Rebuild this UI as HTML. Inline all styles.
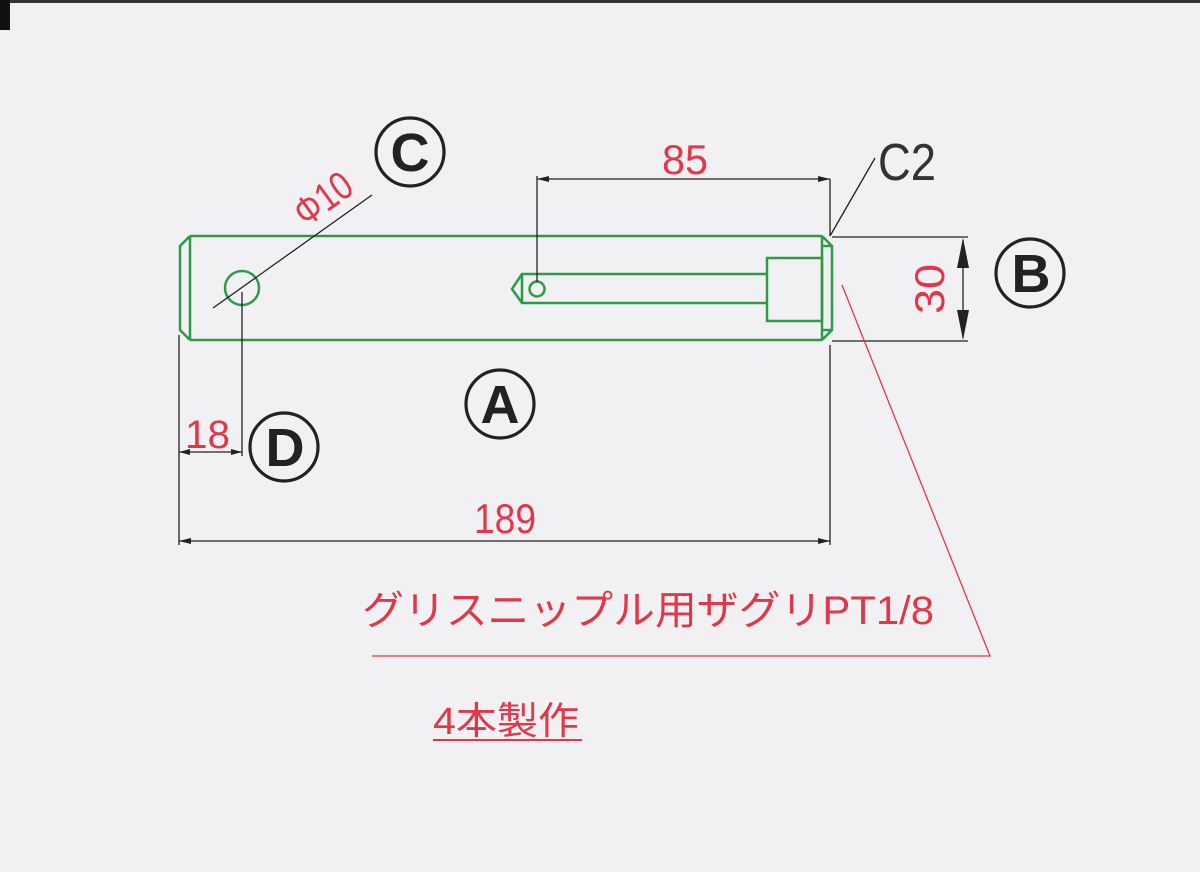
<!DOCTYPE html>
<html><head><meta charset="utf-8"><style>
html,body{margin:0;padding:0;background:#f1f1f3;}
svg{display:block}
</style></head><body>
<svg width="1200" height="872" viewBox="0 0 1200 872" xmlns="http://www.w3.org/2000/svg">
<rect width="1200" height="872" fill="#f1f1f3"/>
<rect x="0" y="0" width="1200" height="3" fill="#333"/>
<rect x="0" y="0" width="10" height="30" fill="#111"/>
<!-- green part -->
<g fill="none" stroke="#2e9a48" stroke-width="2.5">
<path d="M190 236 L822 236 M190 340 L822 340 M190 236 L190 340 M190 236 L180 246 L180 330 L190 340"/>
<path d="M822 236 L822 340 M822 236 L832 246 L832 330 L822 340 M832 246 L822 246 M832 330 L822 330"/>
<rect x="767" y="258" width="55" height="63"/>
<path d="M767 274 L522 274 L512 289 L522 303 L767 303 M522 274 L522 303"/>
<circle cx="537" cy="289" r="7.5"/>
<circle cx="242" cy="288" r="17"/>
</g>
<!-- black dim lines -->
<g fill="none" stroke="#222" stroke-width="1.3">
<path d="M213 308 L372 195"/>
<path d="M179 335 L179 545 M242 292 L242 456 M179 452 L242 452"/>
<path d="M830 345 L830 545 M179 541 L830 541"/>
<path d="M537 282 L537 176 M537 179 L830 179 M830 179 L830 236"/>
<path d="M830 236 L875 158"/>
<path d="M832 237 L968 237 M832 341 L968 341 M963 240 L963 338"/>
</g>
<g fill="#222">
<polygon points="179,452 190,449 190,455"/><polygon points="242,452 231,449 231,455"/>
<polygon points="179,541 191,538 191,544"/><polygon points="830,541 818,538 818,544"/>
<polygon points="537,179 549,176 549,182"/><polygon points="830,179 818,176 818,182"/>
<polygon points="963,238 957,268 969,268"/><polygon points="963,340 957,310 969,310"/>
</g>
<text x="878" y="180" font-family="Liberation Sans, sans-serif" font-size="52" fill="#333" textLength="58" lengthAdjust="spacingAndGlyphs">C2</text>
<!-- red -->
<g fill="#e0384a" font-family="Liberation Sans, 'Noto Sans CJK JP', sans-serif">
<text x="662" y="174" font-size="42" textLength="46" lengthAdjust="spacingAndGlyphs">85</text>
<text transform="translate(944,289) rotate(-90)" text-anchor="middle" font-size="42" textLength="50" lengthAdjust="spacingAndGlyphs">30</text>
<text transform="translate(306,228) rotate(-36)" font-size="40" textLength="62" lengthAdjust="spacingAndGlyphs">Φ10</text>
<text x="185" y="448" font-size="40" textLength="45" lengthAdjust="spacingAndGlyphs">18</text>
<text x="474" y="533" font-size="42" textLength="62" lengthAdjust="spacingAndGlyphs">189</text>
<text x="362" y="624" font-size="40" textLength="572" lengthAdjust="spacingAndGlyphs">グリスニップル用ザグリPT1/8</text>
<text x="433" y="734" font-size="38" textLength="146" lengthAdjust="spacingAndGlyphs">4本製作</text>
</g>
<g stroke="#e0384a" stroke-width="1.3" fill="none">
<path d="M842 285 L990 656 L372 656"/>
<path d="M433 740 L582 740" stroke-width="2"/>
</g>
<!-- circled letters -->
<g font-family="Liberation Sans, sans-serif" font-weight="bold" fill="#222" text-anchor="middle">
<circle cx="410" cy="152" r="34" fill="none" stroke="#222" stroke-width="3.2"/>
<text x="410" y="171" font-size="54">C</text>
<circle cx="1030" cy="273" r="34" fill="none" stroke="#222" stroke-width="3.2"/>
<text x="1031" y="292" font-size="54">B</text>
<circle cx="500" cy="404" r="34" fill="none" stroke="#222" stroke-width="3.2"/>
<text x="500" y="423" font-size="54">A</text>
<circle cx="284" cy="447" r="34" fill="none" stroke="#222" stroke-width="3.2"/>
<text x="285" y="466" font-size="54">D</text>
</g>
</svg>
</body></html>
